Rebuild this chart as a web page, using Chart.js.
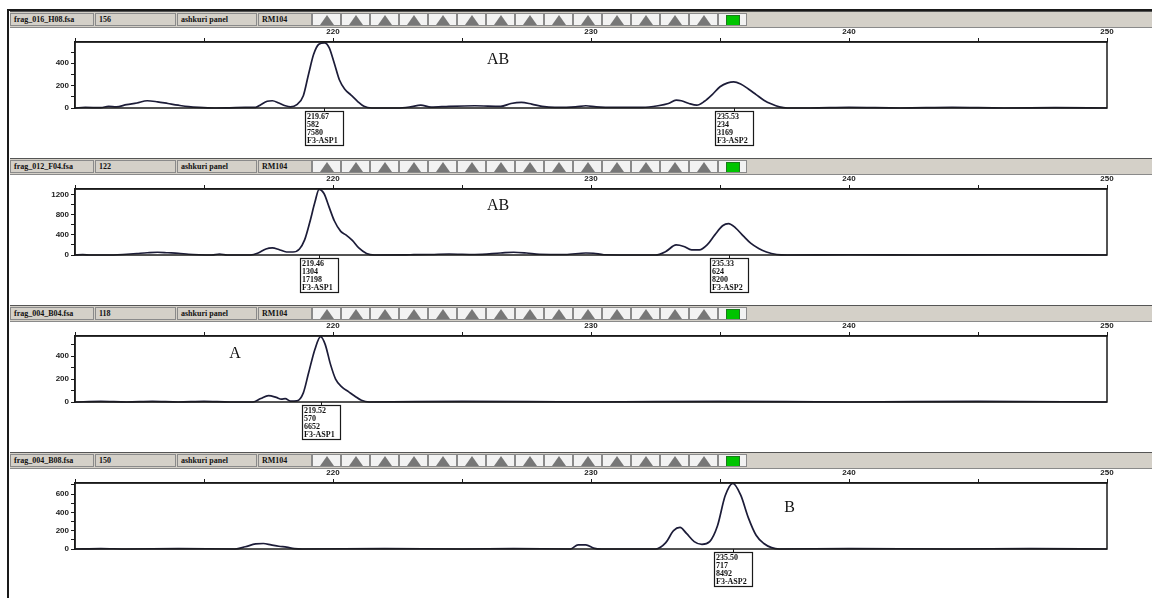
<!DOCTYPE html>
<html>
<head>
<meta charset="utf-8">
<script src="https://cdn.jsdelivr.net/npm/chart.js@4.4.1/dist/chart.umd.min.js"></script>
<style>
  body { margin: 0; background: #fff; width: 1152px; height: 598px; overflow: hidden; position: relative; }
  #frame { position: absolute; left: 7px; top: 9px; right: 0; bottom: 0; border-left: 2px solid #1a1a1a; border-top: 2px solid #1a1a1a; }
  .hdr { position: absolute; left: 10px; right: 0; height: 15px; background: #d4d0c8; border-top: 1px solid #555; border-bottom: 1px solid #8a8a8a; }
  .cell { position: absolute; top: 1px; height: 13px; box-sizing: border-box; border: 1px solid #8a8a8a; font: bold 8px "Liberation Serif", serif; line-height: 11px; padding-left: 3px; color: #111; white-space: nowrap; overflow: hidden; }
  .btn { background: #f2f2f2; }
  .tri { width: 0; height: 0; margin: 1px auto 0; border-left: 7px solid transparent; border-right: 7px solid transparent; border-bottom: 10px solid #777; }
  .led { width: 12px; height: 9px; margin: 1px auto 0; background: #00c400; border: 1px solid #1a7a1a; }
  canvas { position: absolute; left: 10px; }
</style>
</head>
<body>
<div id="frame"></div>
<script>
// header strip text
const fileNames = ["frag_016_H08.fsa", "frag_012_F04.fsa", "frag_004_B04.fsa", "frag_004_B08.fsa"];
const sampleNums = ["156", "122", "118", "150"];
const panelName = "ashkuri panel";
const markerName = "RM104";

// size axis (bp)
const sizeMin = 210;
const sizeMax = 250;
const sizeTicks = [210, 215, 220, 225, 230, 235, 240, 245, 250];
const sizeTickLabels = [220, 230, 240, 250];

// rfu axis per panel
const rfuMax = [590, 1310, 575, 720];
const rfuTicks1 = [0, 100, 200, 300, 400, 500];
const rfuTicks2 = [0, 200, 400, 600, 800, 1000, 1200];
const rfuTicks3 = [0, 100, 200, 300, 400, 500];
const rfuTicks4 = [0, 100, 200, 300, 400, 500, 600, 700];
const rfuTicks = [rfuTicks1, rfuTicks2, rfuTicks3, rfuTicks4];
const rfuLabels1 = [0, 200, 400];
const rfuLabels2 = [0, 400, 800, 1200];
const rfuLabels3 = [0, 200, 400];
const rfuLabels4 = [0, 200, 400, 600];
const rfuLabels = [rfuLabels1, rfuLabels2, rfuLabels3, rfuLabels4];

// traces: [size, rfu]
const trace1 = [
  [210, 0], [210.4, 5], [211.0, 3], [211.3, 15], [211.6, 10], [212.0, 30], [212.4, 45], [212.8, 65],
  [213.2, 55], [213.6, 40], [214.0, 25], [214.4, 12], [214.8, 5], [215.4, 0], [216.0, 2], [216.6, 5],
  [217.0, 5], [217.2, 30], [217.45, 60], [217.65, 65], [217.9, 45], [218.15, 20], [218.35, 10],
  [218.6, 30], [218.85, 110], [219.05, 300], [219.25, 480], [219.45, 570], [219.67, 582], [219.85, 540],
  [220.05, 400], [220.25, 250], [220.45, 170], [220.7, 115], [220.95, 60], [221.2, 15], [221.5, 0],
  [222.5, 0], [223.0, 10], [223.4, 25], [223.8, 8], [224.5, 15], [225.5, 20], [226.5, 15], [226.9, 40],
  [227.3, 50], [227.7, 35], [228.1, 15], [228.6, 5], [229.4, 10], [229.8, 20], [230.2, 10], [231.0, 5],
  [232.0, 5], [232.6, 20], [233.0, 40], [233.3, 70], [233.5, 65], [233.8, 40], [234.1, 25], [234.4, 60],
  [234.7, 120], [235.0, 190], [235.3, 225], [235.53, 234], [235.8, 215], [236.1, 170], [236.4, 120],
  [236.7, 70], [237.0, 35], [237.3, 10], [237.6, 0], [238.5, 0], [240, 5], [242, 0], [244, 5], [246, 0],
  [248, 3], [250, 0]
];
const trace2 = [
  [210, 0], [210.3, 8], [210.6, 0], [211.5, 0], [212.0, 15], [212.4, 30], [212.8, 45], [213.2, 55],
  [213.6, 45], [214.0, 35], [214.4, 15], [214.8, 5], [215.3, 0], [215.6, 20], [215.9, 0], [216.8, 0],
  [217.1, 40], [217.4, 120], [217.65, 140], [217.9, 110], [218.2, 60], [218.45, 60], [218.7, 120],
  [218.9, 300], [219.1, 650], [219.3, 1050], [219.46, 1304], [219.65, 1220], [219.85, 950], [220.05, 680],
  [220.3, 470], [220.5, 400], [220.75, 290], [221.0, 140], [221.3, 30], [221.6, 0], [223.0, 5],
  [223.8, 10], [224.5, 20], [225.5, 10], [226.5, 40], [227.0, 55], [227.5, 40], [228.0, 15], [229.0, 10],
  [229.8, 40], [230.1, 35], [230.5, 5], [232.5, 0], [232.9, 70], [233.3, 200], [233.6, 170], [233.9, 100],
  [234.2, 100], [234.5, 200], [234.8, 400], [235.1, 580], [235.33, 624], [235.6, 540], [235.9, 380],
  [236.2, 230], [236.5, 130], [236.8, 60], [237.2, 10], [237.6, 0], [240, 5], [243, 0], [246, 5], [250, 0]
];
const trace3 = [
  [210, 0], [211, 5], [212, 0], [213, 5], [214, 0], [215, 5], [216, 0], [216.9, 0], [217.2, 30],
  [217.5, 55], [217.8, 40], [218.0, 25], [218.15, 30], [218.35, 8], [218.6, 10], [218.85, 80],
  [219.05, 250], [219.3, 460], [219.52, 570], [219.7, 500], [219.9, 330], [220.1, 200], [220.35, 130],
  [220.6, 90], [220.85, 50], [221.1, 15], [221.4, 0], [225, 5], [230, 0], [235, 5], [240, 0], [245, 5],
  [250, 0]
];
const trace4 = [
  [210, 0], [211, 5], [212, 0], [214, 5], [216.2, 0], [216.6, 25], [217.0, 55], [217.3, 60], [217.6, 45],
  [217.9, 30], [218.2, 20], [218.5, 5], [218.8, 0], [222, 5], [225, 0], [227, 5], [229.2, 0], [229.5, 45],
  [229.8, 45], [230.1, 10], [230.4, 0], [232.5, 0], [232.9, 70], [233.2, 200], [233.45, 235], [233.7, 170],
  [234.0, 80], [234.3, 50], [234.6, 80], [234.9, 250], [235.2, 580], [235.5, 717], [235.8, 590],
  [236.1, 340], [236.4, 150], [236.7, 60], [237.0, 15], [237.3, 0], [240, 5], [244, 0], [247, 5], [250, 0]
];
const traces = [trace1, trace2, trace3, trace4];

// allele calls: size, height, area, label
const calls1 = [[219.67, 582, 7580, "F3-ASP1"], [235.53, 234, 3169, "F3-ASP2"]];
const calls2 = [[219.46, 1304, 17198, "F3-ASP1"], [235.33, 624, 8200, "F3-ASP2"]];
const calls3 = [[219.52, 570, 6652, "F3-ASP1"]];
const calls4 = [[235.50, 717, 8492, "F3-ASP2"]];
const calls = [calls1, calls2, calls3, calls4];

// genotype marks: text, size, rfu
const genotypes = [["AB", 226.4, 430], ["AB", 226.4, 975], ["A", 216.2, 420], ["B", 237.7, 450]];

const ink = "#1a1a1a";

const panelDecor = {
  id: "panelDecor",
  afterDraw(chart, args, opts) {
    const { ctx, chartArea: a, scales: { x, y } } = chart;
    ctx.save();
    ctx.strokeStyle = ink;
    ctx.lineWidth = 1.5;
    ctx.strokeRect(a.left, a.top, a.right - a.left, a.bottom - a.top);

    // rfu labels, placed with the y scale
    ctx.fillStyle = "#222";
    ctx.font = 'bold 8px "Liberation Sans", sans-serif';
    ctx.textAlign = "right";
    ctx.textBaseline = "middle";
    opts.yLabels.forEach(v => ctx.fillText(String(v), a.left - 6, y.getPixelForValue(v)));

    const base = y.getPixelForValue(0);
    opts.calls.forEach(c => {
      const px = Math.round(x.getPixelForValue(c[0]));
      const top = base + 3;
      ctx.lineWidth = 1;
      ctx.beginPath();
      ctx.moveTo(px + 0.5, base);
      ctx.lineTo(px + 0.5, top);
      ctx.stroke();
      ctx.fillStyle = "#fff";
      ctx.fillRect(px - 19, top, 38, 34);
      ctx.lineWidth = 1.2;
      ctx.strokeRect(px - 19 + 0.5, top + 0.5, 38, 34);
      ctx.fillStyle = "#111";
      ctx.font = 'bold 8px "Liberation Serif", serif';
      ctx.textAlign = "left";
      ctx.textBaseline = "top";
      [c[0].toFixed(2), String(c[1]), String(c[2]), c[3]].forEach((t, k) => {
        ctx.fillText(t, px - 17, top + 2 + k * 8);
      });
    });

    const g = opts.mark;
    ctx.font = '16px "Liberation Serif", serif';
    ctx.fillStyle = "#111";
    ctx.textAlign = "center";
    ctx.textBaseline = "middle";
    ctx.fillText(g[0], x.getPixelForValue(g[1]), y.getPixelForValue(g[2]));
    ctx.restore();
  }
};

const tickFont = { size: 8, weight: "bold", family: "Liberation Sans" };

traces.forEach((trace, i) => {
  // header strip
  const hdr = document.createElement("div");
  hdr.className = "hdr";
  hdr.style.top = (11 + 147 * i) + "px";
  const textCells = [[0, 84, fileNames[i]], [85, 81, sampleNums[i]], [167, 80, panelName], [248, 54, markerName]];
  textCells.forEach(([l, w, t]) => {
    const c = document.createElement("div");
    c.className = "cell";
    c.style.left = l + "px";
    c.style.width = w + "px";
    c.textContent = t;
    hdr.appendChild(c);
  });
  for (let k = 0; k < 15; k++) {
    const b = document.createElement("div");
    b.className = "cell btn";
    b.style.left = (302 + 29 * k) + "px";
    b.style.width = "29px";
    b.style.paddingLeft = "0";
    const s = document.createElement("div");
    s.className = k < 14 ? "tri" : "led";
    b.appendChild(s);
    hdr.appendChild(b);
  }
  document.body.appendChild(hdr);

  // chart
  const cv = document.createElement("canvas");
  cv.width = 1142;
  cv.height = 130;
  cv.style.top = (27 + 147 * i) + "px";
  document.body.appendChild(cv);

  new Chart(cv.getContext("2d"), {
    type: "line",
    data: {
      datasets: [{
        data: trace.map(p => ({ x: p[0], y: p[1] })),
        borderColor: "#1c1c38",
        borderWidth: 1.7,
        pointRadius: 0,
        cubicInterpolationMode: "monotone",
        fill: false,
        clip: 4
      }]
    },
    options: {
      responsive: false,
      animation: false,
      layout: { padding: { left: 0, right: 45, top: 0, bottom: 49 } },
      plugins: {
        legend: { display: false },
        tooltip: { enabled: false },
        panelDecor: { calls: calls[i], mark: genotypes[i], yLabels: rfuLabels[i] }
      },
      scales: {
        x: {
          type: "linear",
          position: "top",
          min: sizeMin,
          max: sizeMax,
          afterBuildTicks: s => { s.ticks = sizeTicks.map(v => ({ value: v })); },
          ticks: {
            autoSkip: false,
            maxRotation: 0,
            padding: 1,
            color: "#222",
            font: tickFont,
            callback: v => sizeTickLabels.includes(v) ? String(v) : ""
          },
          grid: { drawOnChartArea: false, tickLength: 4, color: ink, lineWidth: 1 },
          border: { color: ink, width: 1.5 },
          afterFit: s => { s.height = 15; }
        },
        y: {
          min: 0,
          max: rfuMax[i],
          afterBuildTicks: s => { s.ticks = rfuTicks[i].map(v => ({ value: v })); },
          ticks: { autoSkip: false, callback: () => "" },
          grid: { drawOnChartArea: false, tickLength: 4, color: ink, lineWidth: 1 },
          border: { color: ink, width: 1.5 },
          afterFit: s => { s.width = 65; }
        }
      }
    },
    plugins: [panelDecor]
  });
});
</script>
</body>
</html>
